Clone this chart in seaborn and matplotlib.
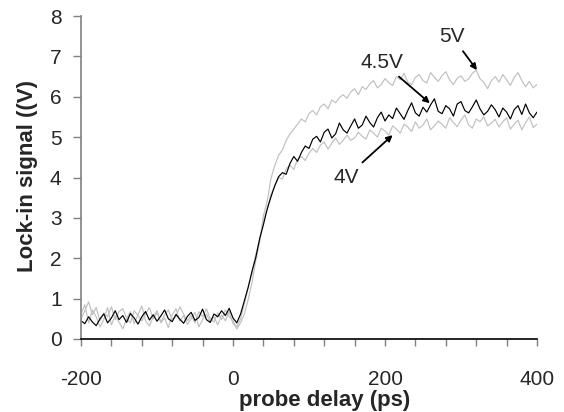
import numpy as np
import pandas as pd
import matplotlib
matplotlib.use("Agg")
import matplotlib.pyplot as plt
import seaborn as sns

# probe delay grid (ps), 5 ps steps from -200 to 400
delay_ps = np.arange(-200, 401, 5)

# 4.5 V trace (black)
sig_4p5V = [
    0.45, 0.38, 0.55, 0.42, 0.33, 0.50, 0.62, 0.40, 0.52, 0.70,
    0.48, 0.58, 0.41, 0.63, 0.52, 0.37, 0.55, 0.68, 0.47, 0.60,
    0.44, 0.57, 0.72, 0.50, 0.43, 0.61, 0.49, 0.39, 0.56, 0.66,
    0.46, 0.53, 0.74, 0.48, 0.41, 0.62, 0.55, 0.70, 0.58, 0.76,
    0.52, 0.40, 0.62, 0.95, 1.28, 1.68, 2.02, 2.48, 2.83, 3.22,
    3.52, 3.80, 4.02, 4.12, 4.08, 4.35, 4.52, 4.40, 4.62, 4.78,
    4.72, 4.95, 5.02, 4.88, 5.12, 5.20, 4.98, 5.08, 5.35, 5.18,
    5.10, 5.28, 5.45, 5.22, 5.30, 5.52, 5.36, 5.25, 5.48, 5.62,
    5.40, 5.55, 5.46, 5.72, 5.58, 5.44, 5.66, 5.85, 5.60, 5.52,
    5.74, 5.62, 5.80, 5.95, 5.64, 5.58, 5.78, 5.70, 5.52, 5.82,
    5.88, 5.66, 5.60, 5.75, 5.92, 5.70, 5.55, 5.64, 5.80, 5.68,
    5.50, 5.72, 5.62, 5.45, 5.68, 5.78, 5.56, 5.82, 5.60, 5.48,
    5.62,
]

# 4 V trace (light grey, lower plateau)
sig_4V = [
    0.62, 0.85, 0.40, 0.72, 0.55, 0.30, 0.48, 0.78, 0.35, 0.58,
    0.42, 0.25, 0.50, 0.68, 0.38, 0.60, 0.82, 0.45, 0.32, 0.55,
    0.70, 0.40, 0.52, 0.28, 0.60, 0.75, 0.44, 0.58, 0.36, 0.50,
    0.66, 0.30, 0.48, 0.62, 0.42, 0.55, 0.35, 0.60, 0.45, 0.68,
    0.38, 0.30, 0.50, 0.88, 1.30, 1.62, 2.10, 2.45, 2.95, 3.20,
    3.60, 3.78, 4.00, 3.96, 4.22, 4.30, 4.20, 4.45, 4.52, 4.42,
    4.60, 4.72, 4.62, 4.80, 4.88, 4.70, 4.85, 4.98, 4.82, 4.92,
    5.05, 4.92, 4.98, 5.12, 5.02, 4.95, 5.18, 5.10, 5.00, 5.22,
    5.15, 5.05, 5.28, 5.20, 5.10, 5.32, 5.25, 5.14, 5.38, 5.22,
    5.30, 5.45, 5.18, 5.28, 5.40, 5.32, 5.22, 5.48, 5.36, 5.26,
    5.42, 5.55, 5.30, 5.22, 5.45, 5.38, 5.50, 5.28, 5.35, 5.44,
    5.25, 5.38, 5.48, 5.20, 5.32, 5.42, 5.18, 5.36, 5.50, 5.24,
    5.32,
]

# 5 V trace (light grey, upper plateau)
sig_5V = [
    0.50, 0.70, 0.92, 0.60, 0.78, 0.45, 0.65, 0.55, 0.80, 0.48,
    0.68, 0.75, 0.52, 0.40, 0.70, 0.58, 0.45, 0.62, 0.78, 0.50,
    0.65, 0.42, 0.60, 0.72, 0.48, 0.55, 0.80, 0.62, 0.45, 0.58,
    0.40, 0.68, 0.55, 0.75, 0.50, 0.42, 0.65, 0.48, 0.72, 0.55,
    0.45, 0.25, 0.40, 0.62, 0.98, 1.40, 1.95, 2.38, 3.05, 3.42,
    3.98, 4.30, 4.55, 4.68, 4.92, 5.08, 5.20, 5.32, 5.45, 5.38,
    5.58, 5.66, 5.55, 5.75, 5.82, 5.70, 5.92, 5.85, 5.98, 6.05,
    5.96, 6.12, 6.20, 6.05, 6.25, 6.18, 6.32, 6.40, 6.22, 6.30,
    6.45, 6.35, 6.28, 6.50, 6.42, 6.58, 6.36, 6.30, 6.48, 6.55,
    6.40, 6.34, 6.60, 6.48, 6.38, 6.52, 6.62, 6.42, 6.30, 6.46,
    6.52, 6.38, 6.44, 6.58, 6.66, 6.45, 6.35, 6.20, 6.40, 6.50,
    6.36, 6.55, 6.42, 6.28, 6.48, 6.60, 6.40, 6.25, 6.38, 6.22,
    6.30,
]

series_names = ["5V", "4V", "4.5V"]
series_colors = {"5V": "#c0c0c0", "4V": "#c0c0c0", "4.5V": "#000000"}

df = pd.concat([
    pd.DataFrame({"delay": delay_ps, "signal": sig_5V, "bias": "5V"}),
    pd.DataFrame({"delay": delay_ps, "signal": sig_4V, "bias": "4V"}),
    pd.DataFrame({"delay": delay_ps, "signal": sig_4p5V, "bias": "4.5V"}),
], ignore_index=True)

sns.set_style("white")
plt.rcParams["font.family"] = ["Liberation Sans", "DejaVu Sans"]

W, H = 564, 412
fig = plt.figure(figsize=(W / 100, H / 100), dpi=100)
ax = fig.add_axes([81 / W, 1 - 339 / H, (537 - 81) / W, (339 - 16) / H])

sns.lineplot(data=df, x="delay", y="signal", hue="bias", hue_order=series_names,
             palette=series_colors, estimator=None, sort=False, lw=0.85,
             legend=False, ax=ax)

ax.set_xlim(-200, 400)
ax.set_ylim(0, 8)

xt = np.arange(-200, 401, 40)
ax.set_xticks(xt)
ax.set_xticklabels([str(v) if v in (-200, 0, 200, 400) else "" for v in xt])
ax.set_yticks(range(0, 9))

for s in ["top", "right"]:
    ax.spines[s].set_visible(False)
ax.spines["left"].set_color("#808080")
ax.spines["left"].set_linewidth(1.2)
ax.spines["bottom"].set_color("#000000")
ax.spines["bottom"].set_linewidth(1.2)

ax.tick_params(axis="y", direction="out", length=6, width=1.0, color="#808080",
               pad=8, labelsize=15, left=True)
ax.tick_params(axis="x", direction="out", length=5, width=1.0, color="#808080",
               pad=17, labelsize=15, bottom=True)

ax.set_xlabel("probe delay (ps)", fontsize=16, fontweight="bold", va="center")
ax.xaxis.set_label_coords(0.535, -0.189)
ax.set_ylabel("Lock-in signal ((V)", fontsize=16, fontweight="bold", va="center")
ax.yaxis.set_label_coords(-0.118, 0.505)

arrow = dict(arrowstyle="-|>", color="black", lw=1.3, mutation_scale=9,
             shrinkA=2, shrinkB=0)
ax.annotate("5V", xy=(321, 6.66), xytext=(288, 7.5), fontsize=15,
            ha="center", va="center", arrowprops=arrow)
ax.annotate("4.5V", xy=(259, 5.84), xytext=(196, 6.86), fontsize=15,
            ha="center", va="center", arrowprops=arrow)
ax.annotate("4V", xy=(210, 5.05), xytext=(149, 4.01), fontsize=15,
            ha="center", va="center", arrowprops=arrow)

fig.savefig("out.png", dpi=100)
